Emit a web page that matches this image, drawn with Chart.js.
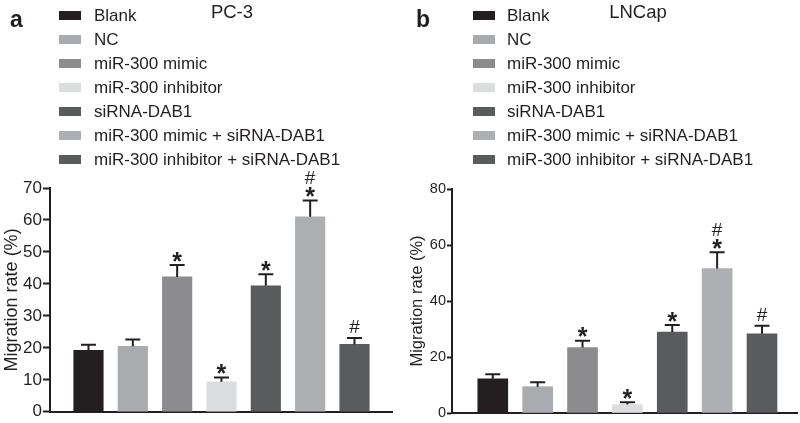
<!DOCTYPE html>
<html lang="en">
<head>
    <meta charset="UTF-8">
    <title>Migration rate - PC-3 / LNCap</title>
    <script src="https://cdn.jsdelivr.net/npm/chart.js"></script>
    <style>
        body {
            margin: 0;
            background: #fff;
            font-family: Arial, "Liberation Sans", sans-serif;
            color: #231f20;
        }
        .wrap {
            position: relative;
            width: 800px;
            height: 423px;
        }
        .panel {
            position: absolute;
            top: 0;
            width: 400px;
            height: 423px;
        }
        .panel canvas {
            position: absolute;
            left: 0;
            top: 0;
        }
        .letter {
            position: absolute;
            font-weight: bold;
            font-size: 23px;
            line-height: 1;
        }
        .title {
            position: absolute;
            font-size: 18.5px;
            line-height: 1;
            transform: translateX(-50%);
        }
        .legend-row {
            position: absolute;
            font-size: 17px;
            line-height: 1;
            white-space: nowrap;
        }
        .legend-row span.sw {
            position: absolute;
            width: 22px;
            height: 9px;
        }
    </style>
</head>
<body>
<div class="wrap">
    <div class="panel" id="panelA" style="left:0">
        <canvas id="chartA" width="400" height="423"></canvas>
    </div>
    <div class="panel" id="panelB" style="left:400px">
        <canvas id="chartB" width="400" height="423"></canvas>
    </div>
</div>

<script>
    const groups = [
        "Blank",
        "NC",
        "miR-300 mimic",
        "miR-300 inhibitor",
        "siRNA-DAB1",
        "miR-300 mimic + siRNA-DAB1",
        "miR-300 inhibitor + siRNA-DAB1"
    ];
    const groupColors = ["#231f20", "#a9abae", "#8c8c8f", "#dcdddf", "#5a5b5d", "#aeafb2", "#5a5b5d"];

    // PC-3 (panel a)
    const pc3Mean = [19.2, 20.5, 42.2, 9.4, 39.4, 61.0, 21.1];
    const pc3Err = [1.8, 2.1, 3.7, 1.3, 3.6, 5.1, 2.0];
    const pc3Ticks = [0, 10, 20, 30, 40, 50, 60, 70];

    // LNCap (panel b)
    const lncapMean = [12.2, 9.4, 23.4, 3.0, 28.9, 51.6, 28.3];
    const lncapErr = [1.6, 1.6, 2.4, 0.8, 2.5, 5.8, 2.9];
    const lncapTicks = [0, 20, 40, 60, 80];

    // significance marks, same for both panels
    const starMarks = [false, false, true, true, true, true, false];
    const hashMarks = [false, false, false, false, false, true, true];

    const ink = "#231f20";

    const buildLegend = (panelId, letter, title, titleX, swX, textX) => {
        const panel = document.getElementById(panelId);
        const l = document.createElement("div");
        l.className = "letter";
        l.textContent = letter;
        l.style.left = (letter === "a" ? 10 : 16) + "px";
        l.style.top = "8px";
        panel.appendChild(l);

        const t = document.createElement("div");
        t.className = "title";
        t.textContent = title;
        t.style.left = titleX + "px";
        t.style.top = "3px";
        panel.appendChild(t);

        groups.forEach((g, i) => {
            const cy = 16 + i * 24;
            const row = document.createElement("div");
            row.className = "legend-row";
            row.style.left = textX + "px";
            row.style.top = (cy - 9) + "px";
            row.textContent = g;
            const sw = document.createElement("span");
            sw.className = "sw";
            sw.style.background = groupColors[i];
            sw.style.left = (swX - textX) + "px";
            sw.style.top = "4px";
            row.appendChild(sw);
            panel.appendChild(row);
        });
    };

    const errorBarPlugin = (means, errs) => ({
        id: "errorBars",
        afterDatasetsDraw(chart) {
            const { ctx } = chart;
            const xs = chart.scales.x, ys = chart.scales.y;
            ctx.save();
            ctx.strokeStyle = ink;
            ctx.fillStyle = ink;
            ctx.lineWidth = 2;
            means.forEach((m, i) => {
                const x = xs.getPixelForValue(i);
                const yTop = ys.getPixelForValue(m + errs[i]);
                const yMid = ys.getPixelForValue(m);
                ctx.beginPath();
                ctx.moveTo(x, yMid);
                ctx.lineTo(x, yTop);
                ctx.moveTo(x - 7.5, yTop);
                ctx.lineTo(x + 7.5, yTop);
                ctx.stroke();

                let bottom = yTop - 3.5;
                if (starMarks[i]) {
                    ctx.font = "bold 25px Arial, 'Liberation Sans'";
                    ctx.textAlign = "center";
                    ctx.textBaseline = "alphabetic";
                    const mt = ctx.measureText("*");
                    ctx.fillText("*", x, bottom - mt.actualBoundingBoxDescent);
                    bottom = bottom - mt.actualBoundingBoxDescent - mt.actualBoundingBoxAscent - 3;
                } else {
                    bottom = yTop - 5;
                }
                if (hashMarks[i]) {
                    ctx.font = "19px Arial, 'Liberation Sans'";
                    ctx.textAlign = "center";
                    ctx.textBaseline = "alphabetic";
                    const mt = ctx.measureText("#");
                    ctx.fillText("#", x, bottom - mt.actualBoundingBoxDescent);
                }
            });
            ctx.restore();
        }
    });

    const createPanel = (canvasId, means, errs, ticks, opts) => {
        const ctx = document.getElementById(canvasId).getContext("2d");
        return new Chart(ctx, {
            type: "bar",
            data: {
                datasets: [{
                    data: means.map((v, i) => ({ x: i, y: v })),
                    backgroundColor: groupColors,
                    borderWidth: 0,
                    barThickness: opts.barWidth
                }]
            },
            options: {
                responsive: false,
                animation: false,
                layout: { padding: opts.padding },
                plugins: { legend: { display: false }, tooltip: { enabled: false } },
                scales: {
                    x: {
                        type: "linear",
                        min: opts.xMin,
                        max: opts.xMax,
                        offset: false,
                        grid: { display: false },
                        ticks: { display: false },
                        border: { display: true, color: ink, width: 2 }
                    },
                    y: {
                        min: ticks[0],
                        max: ticks[ticks.length - 1],
                        afterBuildTicks: scale => { scale.ticks = ticks.map(v => ({ value: v })); },
                        afterFit: scale => { scale.width = opts.yWidth; },
                        grid: {
                            display: true,
                            drawOnChartArea: false,
                            drawTicks: true,
                            tickLength: opts.tickLen,
                            tickWidth: 2,
                            tickColor: ink
                        },
                        border: { display: true, color: ink, width: 2 },
                        ticks: {
                            color: ink,
                            padding: 1,
                            font: { family: "Arial, 'Liberation Sans'", size: opts.tickFont }
                        },
                        title: {
                            display: true,
                            text: "Migration rate (%)",
                            color: ink,
                            padding: { top: opts.titlePad, bottom: 0 },
                            font: { family: "Arial, 'Liberation Sans'", size: opts.titleFont }
                        }
                    }
                }
            },
            plugins: [errorBarPlugin(means, errs)]
        });
    };

    buildLegend("panelA", "a", "PC-3", 232, 59, 94);
    buildLegend("panelB", "b", "LNCap", 238, 73, 107);

    createPanel("chartA", pc3Mean, pc3Err, pc3Ticks, {
        xMin: -0.868, xMax: 6.846, barWidth: 29.5,
        padding: { top: 188, bottom: 2, left: 0, right: 8 },
        yWidth: 50, tickLen: 7, tickFont: 17, titleFont: 18, titlePad: 1
    });

    createPanel("chartB", lncapMean, lncapErr, lncapTicks, {
        xMin: -0.909, xMax: 6.78, barWidth: 30,
        padding: { top: 189, bottom: 2, left: 0, right: 3 },
        yWidth: 52, tickLen: 5, tickFont: 14.5, titleFont: 16.5, titlePad: 8
    });
</script>
</body>
</html>
